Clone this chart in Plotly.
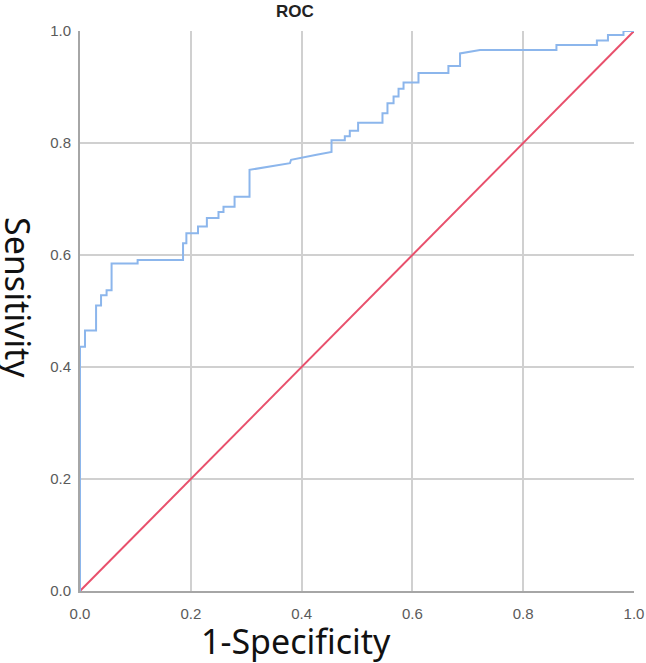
import plotly.graph_objects as go

# ROC curve vertices (1-Specificity, Sensitivity)
fpr = [0.0, 0.0, 0.009, 0.009, 0.029, 0.029, 0.038, 0.038, 0.048, 0.048, 0.057, 0.057,
       0.104, 0.104, 0.186, 0.186, 0.192, 0.192, 0.213, 0.213, 0.229, 0.229, 0.250, 0.250,
       0.259, 0.259, 0.279, 0.279, 0.306, 0.306, 0.379, 0.381, 0.427, 0.454, 0.454, 0.478,
       0.478, 0.487, 0.487, 0.502, 0.502, 0.546, 0.546, 0.555, 0.555, 0.566, 0.566, 0.575,
       0.575, 0.584, 0.584, 0.611, 0.611, 0.665,
       0.665, 0.686, 0.686, 0.722, 0.860, 0.860, 0.933, 0.933, 0.953, 0.953, 0.981, 0.981, 1.0]
tpr = [0.0, 0.436, 0.436, 0.465, 0.465, 0.510, 0.510, 0.528, 0.528, 0.537, 0.537, 0.585,
       0.585, 0.591, 0.591, 0.621, 0.621, 0.639, 0.639, 0.651, 0.651, 0.666, 0.666, 0.677,
       0.677, 0.686, 0.686, 0.704, 0.704, 0.752, 0.764, 0.770, 0.779, 0.784, 0.805, 0.805,
       0.812, 0.812, 0.822, 0.822, 0.836, 0.836, 0.853, 0.853, 0.871, 0.871, 0.883, 0.883,
       0.897, 0.897, 0.908, 0.908, 0.925, 0.925,
       0.9375, 0.9375, 0.960, 0.966, 0.966, 0.975, 0.975, 0.983, 0.983, 0.993, 0.993, 1.0, 1.0]

ref_x = [0.0, 1.0]
ref_y = [0.0, 1.0]

tick_vals = [0.0, 0.2, 0.4, 0.6, 0.8, 1.0]
tick_text = ["0.0", "0.2", "0.4", "0.6", "0.8", "1.0"]

L, R, T, B = 80, 12, 31, 72
W, H = 646, 663

fig = go.Figure()
fig.add_trace(go.Scatter(x=ref_x, y=ref_y, mode="lines",
                         line=dict(color="#e8506c", width=2), cliponaxis=False,
                         showlegend=False, hoverinfo="skip"))
fig.add_trace(go.Scatter(x=fpr, y=tpr, mode="lines",
                         line=dict(color="#8cb6ec", width=2), cliponaxis=False,
                         showlegend=False))

axis_common = dict(
    range=[0, 1], tickvals=tick_vals, ticktext=tick_text,
    showgrid=True, gridcolor="#d0d0d0", gridwidth=1.5,
    zeroline=False, showline=True, linecolor="#a6a6a6", linewidth=2,
    ticks="", tickfont=dict(family="Liberation Sans, Arial", size=15, color="#5a5a5a"),
    fixedrange=True, automargin=False,
)

fig.update_layout(
    width=W, height=H,
    margin=dict(l=L, r=R, t=T, b=B),
    paper_bgcolor="white", plot_bgcolor="white",
    xaxis=dict(**axis_common, ticklabelstandoff=8),
    yaxis=dict(**axis_common, ticklabelstandoff=4),
)

pw, ph = W - L - R, H - T - B
def px(xp):
    return (xp - L) / pw
def py(yp):
    return (H - B - yp) / ph

fig.add_annotation(text="<b>ROC</b>", x=px(295), y=py(12), xref="paper", yref="paper",
                   xanchor="center", yanchor="middle",
                   showarrow=False, font=dict(family="Liberation Sans, Arial", size=17, color="#222222"))
fig.add_annotation(text="1-Specificity", x=px(296), y=py(641), xref="paper", yref="paper",
                   xanchor="center", yanchor="middle",
                   showarrow=False, font=dict(family="Noto Sans", size=34, color="#111111"))
fig.add_annotation(text="Sensitivity", x=px(18), y=py(297), xref="paper", yref="paper",
                   xanchor="center", yanchor="middle",
                   textangle=90, showarrow=False, font=dict(family="Noto Sans", size=34, color="#111111"))

fig.write_html("out.html")
